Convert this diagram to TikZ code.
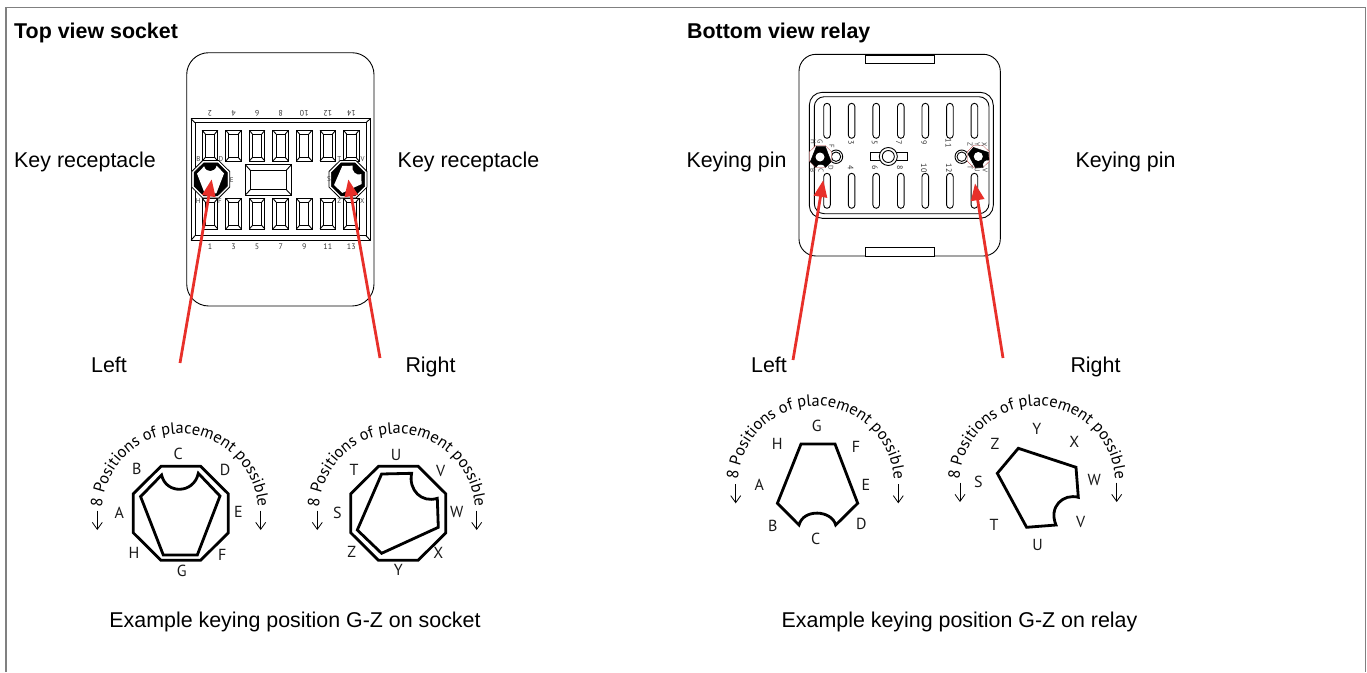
\documentclass[tikz,border=0pt]{standalone}
\usepackage{fontspec}
\setmainfont{Liberation Sans}
\newfontfamily\curvefont{PT Sans}
\usetikzlibrary{arrows.meta, decorations.text}
\definecolor{framegray}{HTML}{808080}
\definecolor{keyred}{HTML}{E8302A}
\definecolor{thinred}{HTML}{B03030}
\newcommand{\bevelbox}[8]{%
  \draw[bodyline] (#1,#2) rectangle (#3,#4);
  \draw[bodyline] (#5,#6) rectangle (#7,#8);
  \draw[bodyline] (#1,#2) -- (#5,#6) (#3,#2) -- (#7,#6) (#1,#4) -- (#5,#8) (#3,#4) -- (#7,#8);
}
\tikzset{
  bodyline/.style = {draw = black, line width = 0.9pt},
  slotbox/.style = {draw = black, line width = 0.9pt, rounded corners = 3.3pt},
  textlabel/.style = {anchor = base, inner sep = 0pt, font = \fontsize{21.4}{24}\selectfont},
  titlelabel/.style = {anchor = base west, inner sep = 0pt, font = \fontsize{21.4}{24}\selectfont\bfseries},
  posletter/.style = {inner sep = 0pt, font = \curvefont\fontsize{16}{18}\selectfont, text = black!90},
  pinnumber/.style = {inner sep = 0pt, font = \curvefont\fontsize{8}{9}\selectfont, text = black!80},
  pinletter/.style = {inner sep = 0pt, font = \curvefont\fontsize{7}{8}\selectfont, text = black!75},
  keyarrow/.style = {draw = keyred, line width = 2.8pt, -{Triangle[length = 17pt, width = 13pt]}},
  sidearrow/.style = {draw = black, line width = 0.8pt, -{Straight Barb[length = 7pt, width = 10pt]}},
  bigoutline/.style = {draw = black, line width = 2.8pt, line join = miter},
  curvelabel/.style = {decorate, decoration = {text along path, text align = center,
      text = {|\curvefont\fontsize{16.4}{18}\selectfont|8 Positions of placement possible}}},
  octagon/.pic = {\path[pic actions] (-19.8,-47) -- (19.8,-47) -- (47.5,-19.5) -- (47.5,19.5) -- (19.8,47) -- (-19.8,47) -- (-47.5,19.5) -- (-47.5,-19.5) -- cycle;},
  socketkeyg/.pic = {\path[pic actions] (-19.2,-38.3) .. controls (-15,-19) and (13,-19) .. (17.5,-40) -- (39.2,-17.3) -- (16.5,41.7) -- (-17.5,41.7) -- (-40.2,-16.7) -- cycle;},
  socketkeyz/.pic = {\path[pic actions] (-16.7,-39.3) -- (13.3,-40) .. controls (10,-23.3) and (23.3,-10) .. (39,-15) -- (40,14) -- (-16.7,40) -- (-41,16.7) -- cycle;},
  relaykeyg/.pic = {\path[pic actions] (-15.7,-39.3) -- (18.3,-39.3) -- (41,20) -- (19,41.7) .. controls (15,26.7) and (-13.3,25) .. (-17.7,41.7) -- (-39.3,20) -- cycle;},
  relaykeyz/.pic = {\path[pic actions] (-19,-35) -- (38.7,-16) -- (41,14) .. controls (26,10) and (11,23.3) .. (18.7,41.7) -- (-10.7,44) -- (-40,-10) -- cycle;}
}
\begin{document}
\begin{tikzpicture}[x = 1pt, y = -1pt]
\useasboundingbox (0,0) rectangle (1367,672);
\draw[framegray, line width = 1.5pt] (6,672) -- (6,7.5) -- (1365.5,7.5) -- (1365.5,672);

\node[titlelabel] (titlesocket) at (14,38.3) {Top view socket};
\node[titlelabel] (titlerelay) at (687,38.3) {Bottom view relay};

\draw[bodyline, rounded corners = 22pt] (186.7,52.7) rectangle (374,306);
\bevelbox{191}{118.7}{370.3}{240.3}{195}{122.7}{366}{235.7}
\bevelbox{245.3}{164.7}{291.3}{195}{250.7}{170.7}{286}{189.3}
\foreach \px [count = \i] in {210,233.6,257.1,280.7,304.2,327.8,351.3} {
  \pgfmathsetmacro{\xa}{\px-7.8}
  \pgfmathsetmacro{\xb}{\px+7.8}
  \pgfmathsetmacro{\xc}{\px-4.7}
  \pgfmathsetmacro{\xd}{\px+4.7}
  \bevelbox{\xa}{130.3}{\xb}{161}{\xc}{134}{\xd}{157.5}
  \bevelbox{\xa}{198.3}{\xb}{229}{\xc}{202}{\xd}{225.5}
  \pgfmathtruncatemacro{\nb}{2*\i}
  \pgfmathtruncatemacro{\na}{2*\i-1}
  \node[pinnumber, rotate = 180] (sockettop\i) at (\px,113.7) {\nb};
  \node[pinnumber] (socketbot\i) at (\px,246.3) {\na};
}
\pic[draw = black, fill = white, line width = 0.8pt, scale = 0.4] at (210.7,179.3) {octagon};
\pic[draw = black, fill = black, line width = 0.5pt, scale = 0.35] at (210.7,179.3) {octagon};
\pic[fill = white, scale = 0.34] at (210.7,179.3) {socketkeyg};
\pic[draw = black, fill = white, line width = 0.8pt, scale = 0.4] at (348,179.3) {octagon};
\pic[draw = black, fill = black, line width = 0.5pt, scale = 0.35] at (348,179.3) {octagon};
\pic[fill = white, scale = 0.34] at (348,179.3) {socketkeyz};
\foreach \nm/\tx/\px/\py in {sb/B/198.3/159, sd/D/221/158.7, se/E/231.7/180, sh/H/198.3/200.7, sf/F/220/200.7, st/T/339.3/158.7, sv/V/362.7/158.7, ss/S/329/179.3, sz/Z/339.3/201, sx/X/362.3/201} {
  \node[pinletter] (\nm) at (\px,\py) {\tx};
}

\draw[bodyline, rounded corners = 17pt] (799,54.3) rectangle (1000.3,256);
\draw[bodyline, fill = white] (865.3,55) rectangle (934,63);
\draw[bodyline, fill = white] (865.3,247.7) rectangle (934,256);
\draw[bodyline, rounded corners = 13pt] (809.3,92.3) rectangle (993.3,218.3);
\draw[bodyline, rounded corners = 10pt] (814.3,96.7) rectangle (989,213.7);
\foreach \px in {827,851.6,876.2,900.8,925.3,949.9,974.4} {
  \draw[slotbox] (\px-3.3,103.3) rectangle (\px+3.3,138.3);
  \draw[slotbox] (\px-3.3,173.3) rectangle (\px+3.3,208.3);
}
\foreach \tx/\px [count = \i] in {3/851,5/874.5,7/899,9/924,11/948.5} {
  \node[pinnumber, rotate = -90] (relaytop\i) at (\px,143) {\tx};
}
\foreach \tx/\px [count = \i] in {4/850.7,6/875,8/900,10/924,12/949} {
  \node[pinnumber, rotate = -90] (relaybot\i) at (\px,168) {\tx};
}
\draw[bodyline, fill = white] (870,152.7) rectangle (907.3,160);
\draw[bodyline, fill = white] (888.3,156.5) circle (9);
\draw[bodyline, fill = white] (888.3,156.5) circle (6);
\foreach \px in {836,961.7} {
  \draw[bodyline, fill = white] (\px,156.7) circle (6.7);
  \draw[bodyline] (\px,156.7) circle (4.7);
}
\pic[draw = thinred, fill = white, line width = 0.3pt, scale = 0.235] at (820.5,156.5) {octagon};
\pic[fill = black, draw = black, line width = 0.4pt, scale = 0.26] at (820.5,156.5) {relaykeyg};
\fill[white] (820,157) circle (4.5);
\pic[draw = thinred, fill = white, line width = 0.3pt, scale = 0.235] at (978.3,156.5) {octagon};
\pic[fill = black, draw = black, line width = 0.4pt, scale = 0.26] at (978.3,156.5) {relaykeyz};
\fill[white] (978.3,156.5) circle (4.5);
\foreach \nm/\tx/\px/\py in {rh/H/813.3/141.7, rg/G/820/141.7, rf/F/831.7/146.7, rd/D/830.7/167.3, rc/C/821/170.7, rb/B/812.7/171, rz/Z/970/144.3, ry/Y/977.3/144, rx/X/984.3/145, rt/T/970/167.3, ru/U/977.3/170, rv/V/985/170.7} {
  \node[pinletter, rotate = -90] (\nm) at (\px,\py) {\tx};
}

\node[textlabel] (keyrecleft) at (85,167) {Key receptacle};
\node[textlabel] (keyrecright) at (468.5,167) {Key receptacle};
\node[textlabel] (keypinleft) at (736.5,167) {Keying pin};
\node[textlabel] (keypinright) at (1125.5,167) {Keying pin};
\node[textlabel] (sockleft) at (109,372) {Left};
\node[textlabel] (sockright) at (430.5,372) {Right};
\node[textlabel] (relayleft) at (769,372) {Left};
\node[textlabel] (relayright) at (1095.5,372) {Right};
\node[textlabel] (examplesocket) at (295,627.5) {Example keying position G-Z on socket};
\node[textlabel] (examplerelay) at (959.5,627.5) {Example keying position G-Z on relay};

\coordinate (sockleftend) at (180,363);
\coordinate (sockrightend) at (380,358);
\coordinate (relayleftend) at (793,360);
\coordinate (relayrightend) at (1003,358);
\coordinate (sockkeyl) at (211.7,179.3);
\coordinate (sockkeyr) at (348.3,179.3);
\coordinate (relaypinl) at (823.3,180);
\coordinate (relaypinr) at (975,183.3);
\draw[keyarrow] (sockleftend) -- (sockkeyl);
\draw[keyarrow] (sockrightend) -- (sockkeyr);
\draw[keyarrow] (relayleftend) -- (relaypinl);
\draw[keyarrow] (relayrightend) -- (relaypinr);

\pic[bigoutline] at (180.8,513.3) {octagon};
\pic[bigoutline] at (180.8,513.3) {socketkeyg};
\pic[bigoutline] at (398.3,513.3) {octagon};
\pic[bigoutline] at (398.3,513.3) {socketkeyz};
\pic[bigoutline] at (816.7,483.3) {relaykeyg};
\pic[bigoutline] at (1037.3,483.3) {relaykeyz};

\path[curvelabel] (180,511.7) ++(-195:78) arc[start angle = -195, end angle = 15, x radius = 78, y radius = 78];
\path[curvelabel] (397,511.7) ++(-195:78) arc[start angle = -195, end angle = 15, x radius = 78, y radius = 78];
\path[curvelabel] (816,484) ++(-195:78) arc[start angle = -195, end angle = 15, x radius = 78, y radius = 78];
\path[curvelabel] (1037.3,484) ++(-195:78) arc[start angle = -195, end angle = 15, x radius = 78, y radius = 78];

\foreach \nm/\tx/\px/\py in {
  pa/A/119.3/513.3, pb/B/136.7/469, pc/C/178.3/454, pd/D/225/470, pe/E/238.3/512.3, pf/F/222.3/555, pg/G/181.7/571, ph/H/134/553.3,
  ps/S/337.3/513.3, pt/T/354/470, pu/U/396/455, pv/V/440.7/470.7, pw/W/456.7/512.3, px/X/438.3/553.3, py/Y/398.3/570, pz/Z/351.7/552.3,
  qa/A/759.3/485, qb/B/772.7/526, qc/C/815.7/539, qd/D/861.3/524, qe/E/866/485, qf/F/856/447.3, qg/G/816.7/426, qh/H/777.3/444.3,
  qs/S/978.3/482.3, qt/T/994/525, qu/U/1037.7/545, qv/V/1080.7/522.3, qw/W/1094.3/480, qx/X/1074.3/441.7, qy/Y/1036.7/429.3, qz/Z/995/444.3} {
  \node[posletter] (\nm) at (\px,\py) {\tx};
}

\foreach \nm/\px/\ya/\yb in {a/97.3/510.7/530, b/260.7/510.7/530, c/317.3/510.7/530, d/476.7/510.7/530, e/735.7/484.3/503.3, f/898.3/484.3/503.3, g/960/482.7/502, h/1116.7/482.7/502} {
  \coordinate (arrowtop\nm) at (\px,\ya);
  \coordinate (arrowend\nm) at (\px,\yb);
  \draw[sidearrow] (arrowtop\nm) -- (arrowend\nm);
}
\end{tikzpicture}
\end{document}
